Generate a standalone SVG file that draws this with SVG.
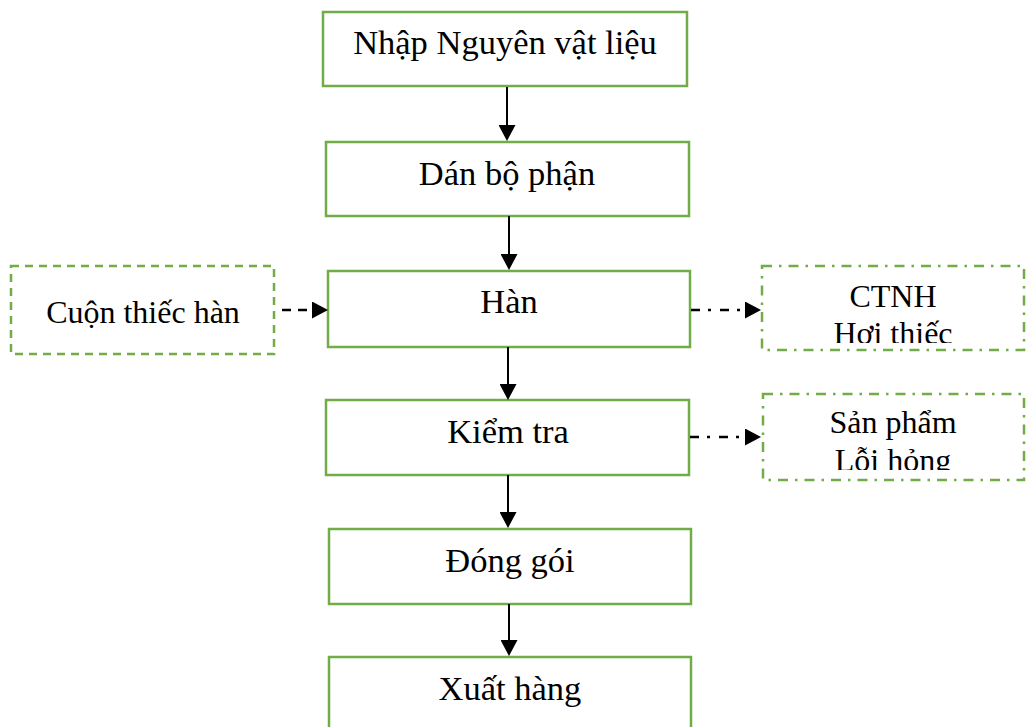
<svg xmlns="http://www.w3.org/2000/svg" width="1026" height="727" viewBox="0 0 1026 727">
<style>
.box{fill:#fff;stroke:#70AD47;stroke-width:2.5}
.dash{fill:#fff;stroke:#70AD47;stroke-width:2.5;stroke-dasharray:8 6}
.dashdot{fill:#fff;stroke:#70AD47;stroke-width:2.5;stroke-dasharray:10 7 2.5 7}
.t{font-family:"Liberation Serif","Times New Roman",serif;font-size:34.5px;fill:#000;text-anchor:middle}
.s{font-family:"Liberation Serif","Times New Roman",serif;font-size:32px;fill:#000;text-anchor:middle}
.a{stroke:#000;stroke-width:2;fill:none}
.ad{stroke:#000;stroke-width:2.5;fill:none;stroke-dasharray:9 7}
.add{stroke:#000;stroke-width:2.5;fill:none;stroke-dasharray:9 8 3 9}
</style>
<defs>
<marker id="ah" viewBox="0 0 16 17" refX="0" refY="8.5" markerWidth="16" markerHeight="17" markerUnits="userSpaceOnUse" orient="auto">
<path d="M0,0 L16,8.5 L0,17 z" fill="#000"/>
</marker>
<clipPath id="c1"><rect x="762" y="266" width="262" height="77"/></clipPath>
<clipPath id="c2"><rect x="762" y="394" width="262" height="76"/></clipPath>
</defs>
<g id="n1"><rect class="box" x="323" y="12" width="364" height="74"/><text class="t" x="505" y="54">Nhập Nguyên vật liệu</text></g>
<g id="n2"><rect class="box" x="326" y="142" width="363" height="74"/><text class="t" x="507" y="185">Dán bộ phận</text></g>
<g id="n3"><rect class="box" x="328" y="271" width="362" height="76"/><text class="t" x="509" y="313">Hàn</text></g>
<g id="n4"><rect class="box" x="326" y="400" width="363" height="75"/><text class="t" x="508" y="443">Kiểm tra</text></g>
<g id="n5"><rect class="box" x="329" y="529" width="362" height="75"/><text class="t" x="510" y="572">Đóng gói</text></g>
<g id="n6"><rect class="box" x="329" y="657" width="362" height="90"/><text class="t" x="510" y="700">Xuất hàng</text></g>
<g id="n7"><rect class="dash" x="11" y="266" width="263" height="88"/><text class="s" x="143" y="323">Cuộn thiếc hàn</text></g>
<g id="n8"><rect class="dashdot" x="762" y="266" width="262" height="84"/><g clip-path="url(#c1)"><text class="s" x="893" y="307">CTNH</text><text class="s" x="893" y="343.5">Hơi thiếc</text></g></g>
<g id="n9"><rect class="dashdot" x="763" y="394" width="261" height="86"/><g clip-path="url(#c2)"><text class="s" x="893" y="433">Sản phẩm</text><text class="s" x="893" y="471">Lỗi hỏng</text></g></g>
<g id="connectors">
<line class="a" x1="507" y1="87" x2="507" y2="125" marker-end="url(#ah)"/>
<line class="a" x1="509" y1="216" x2="509" y2="254" marker-end="url(#ah)"/>
<line class="a" x1="508" y1="347" x2="508" y2="384" marker-end="url(#ah)"/>
<line class="a" x1="508" y1="475" x2="508" y2="512" marker-end="url(#ah)"/>
<line class="a" x1="509" y1="604" x2="509" y2="640" marker-end="url(#ah)"/>
<line class="ad" x1="282" y1="310" x2="312" y2="310" marker-end="url(#ah)"/>
<line class="add" x1="691" y1="310" x2="745" y2="310" marker-end="url(#ah)"/>
<line class="add" x1="690" y1="437" x2="745" y2="437" marker-end="url(#ah)"/>
</g>
</svg>
